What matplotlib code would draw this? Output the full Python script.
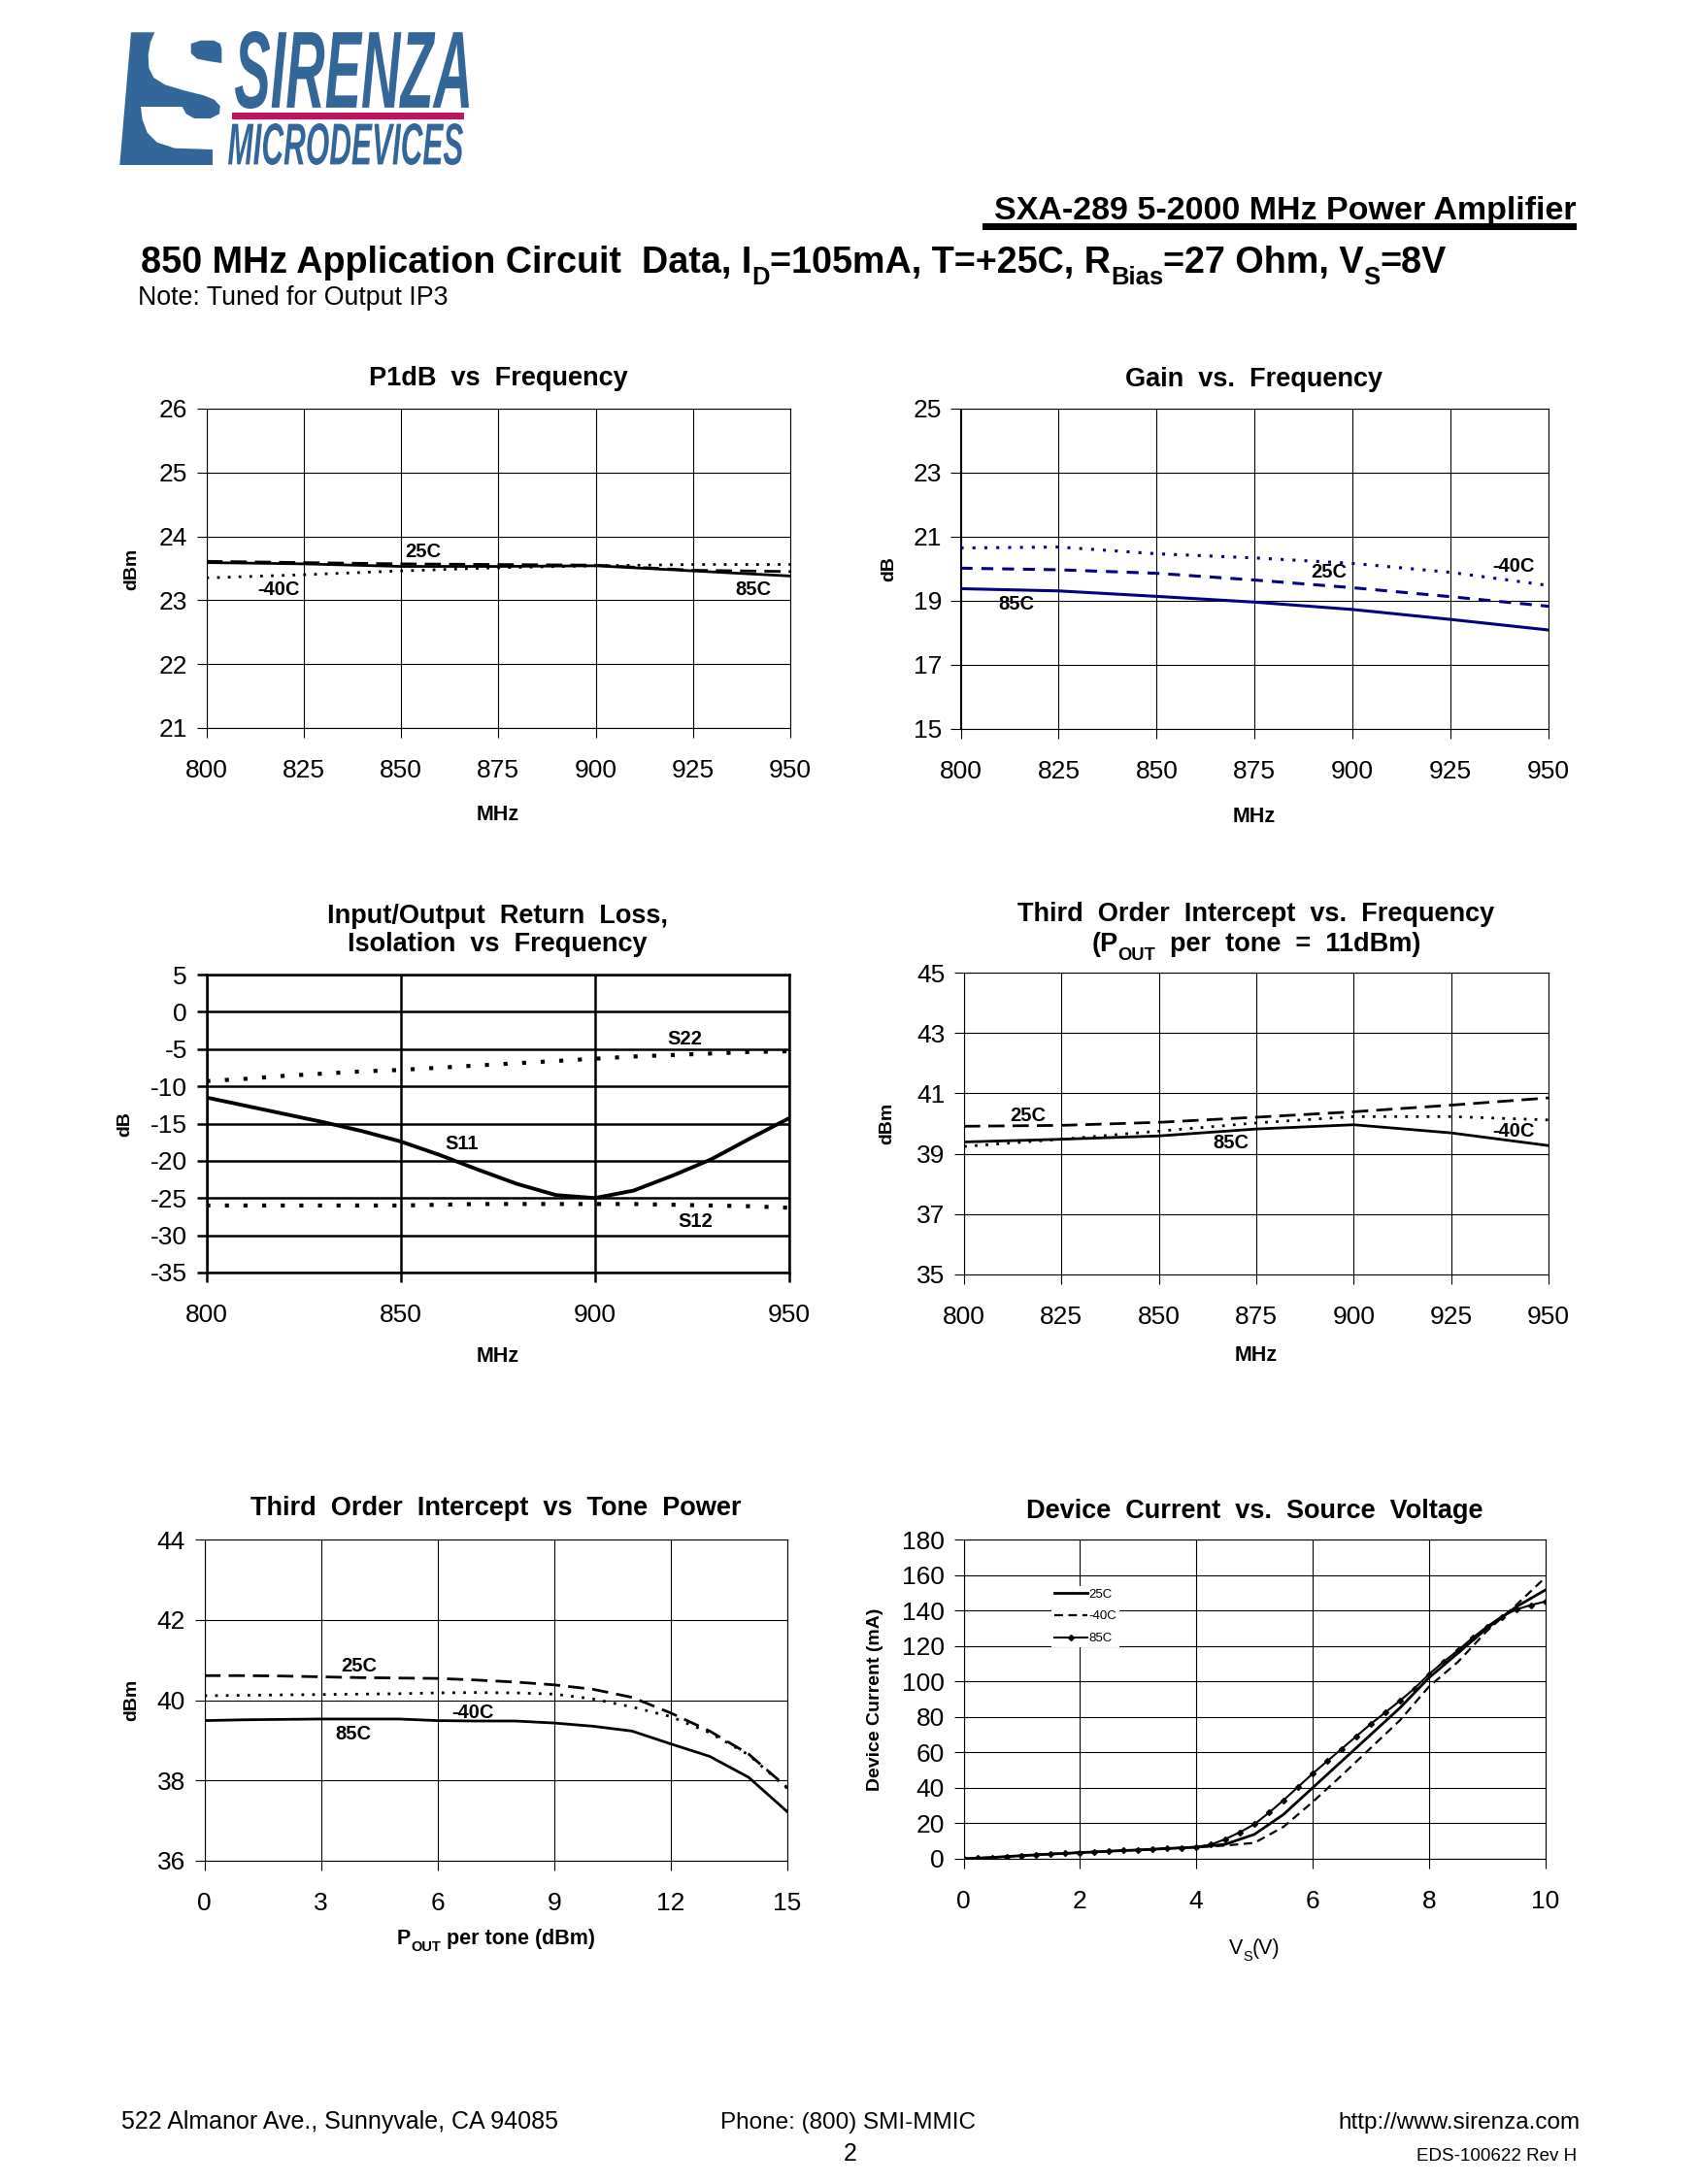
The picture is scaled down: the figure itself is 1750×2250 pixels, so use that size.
import numpy as np
import matplotlib
matplotlib.use('Agg')
import matplotlib.pyplot as plt
from matplotlib.patches import Polygon, Rectangle, PathPatch
from matplotlib.textpath import TextPath
from matplotlib.font_manager import FontProperties
from matplotlib.transforms import Affine2D

plt.rcParams['font.family'] = ['Liberation Sans', 'DejaVu Sans']
plt.rcParams['axes.unicode_minus'] = False

# ---- data ----
freq = [800, 825, 850, 875, 900, 925, 950]

# P1dB vs frequency (dBm)
p1db_25c = [23.61, 23.59, 23.57, 23.56, 23.55, 23.47, 23.45]
p1db_85c = [23.59, 23.57, 23.53, 23.53, 23.54, 23.46, 23.38]
p1db_m40c = [23.35, 23.40, 23.46, 23.51, 23.54, 23.56, 23.56]

# gain vs frequency (dB)
gain_m40c = [20.65, 20.68, 20.47, 20.34, 20.17, 19.89, 19.48]
gain_25c = [20.02, 19.97, 19.86, 19.65, 19.41, 19.13, 18.83]
gain_85c = [19.38, 19.31, 19.14, 18.96, 18.73, 18.42, 18.09]

# return loss / isolation (dB)
rl_freq = [800, 810, 820, 830, 840, 850, 860, 870, 880, 890, 900, 910, 920, 930, 940, 950]
s11 = [-11.5, -12.6, -13.7, -14.8, -16.0, -17.4, -19.2, -21.2, -23.1, -24.6, -25.0, -24.0, -22.0, -19.8, -17.0, -14.3]
s22 = [-9.3, -9.0, -8.6, -8.3, -8.0, -7.8, -7.5, -7.2, -6.9, -6.6, -6.3, -6.0, -5.8, -5.6, -5.4, -5.3]
s12 = [-26.0, -26.0, -26.0, -26.0, -26.0, -26.0, -25.9, -25.8, -25.8, -25.8, -25.8, -25.8, -25.9, -26.0, -26.1, -26.3]

# OIP3 vs frequency (dBm)
toi_25c = [39.91, 39.94, 40.04, 40.21, 40.39, 40.61, 40.85]
toi_m40c = [39.24, 39.48, 39.75, 40.02, 40.23, 40.23, 40.12]
toi_85c = [39.39, 39.48, 39.59, 39.82, 39.96, 39.69, 39.27]

# OIP3 vs tone power (dBm)
pout = list(range(16))
tone_25c = [40.61, 40.61, 40.60, 40.58, 40.56, 40.55, 40.54, 40.50, 40.45, 40.38, 40.27, 40.07, 39.68, 39.23, 38.66, 37.82]
tone_m40c = [40.11, 40.12, 40.13, 40.14, 40.15, 40.16, 40.18, 40.19, 40.18, 40.15, 40.03, 39.83, 39.59, 39.19, 38.64, 37.80]
tone_85c = [39.49, 39.51, 39.52, 39.53, 39.53, 39.53, 39.49, 39.48, 39.48, 39.43, 39.35, 39.23, 38.91, 38.60, 38.08, 37.22]

# device current vs source voltage (mA)
vs = [0, 0.5, 1, 1.5, 2, 2.5, 3, 3.5, 4, 4.5, 5, 5.5, 6, 6.5, 7, 7.5, 8, 8.5, 9, 9.5, 10]
id_25c = [0, 0.8, 1.8, 2.7, 3.5, 4.3, 5.0, 5.8, 6.6, 8.2, 13.8, 25, 40, 55, 70, 85, 102, 116, 130, 142, 151.5]
id_m40c = [0, 0.8, 1.8, 2.7, 3.5, 4.3, 5.0, 5.8, 6.5, 7.5, 9.0, 18, 32, 47, 62.5, 78, 97, 111, 128.5, 143, 158.5]
vs_85 = [0, 0.25, 0.5, 0.75, 1, 1.25, 1.5, 1.75, 2, 2.25, 2.5, 2.75, 3, 3.25, 3.5, 3.75, 4, 4.25, 4.5, 4.75,
         5, 5.25, 5.5, 5.75, 6, 6.25, 6.5, 6.75, 7, 7.25, 7.5, 7.75, 8, 8.25, 8.5, 8.75, 9, 9.25, 9.5, 9.75, 10]
id_85c = [0, 0.4, 0.8, 1.3, 1.8, 2.2, 2.7, 3.1, 3.5, 3.9, 4.3, 4.7, 5.0, 5.4, 5.8, 6.2, 6.7, 8.0, 11.1, 15,
          19.5, 26, 33, 40.5, 48, 55, 62, 69, 76, 82.5, 89, 96, 104, 111, 117.5, 124.5, 131, 136.5, 140.5, 143, 145]

W, H = 1750, 2250
fig = plt.figure(figsize=(17.5, 22.5), dpi=100)
fig.patch.set_facecolor('white')

# page layer, coordinates in pixels (y down)
page = fig.add_axes([0, 0, 1, 1])
page.set_xlim(0, W)
page.set_ylim(H, 0)
page.axis('off')

BLUE = '#336699'
NAVY = '#000080'
DASH = (0, (6, 3))
DOT = (0, (1, 3))
TSIZE = 19.5   # chart titles
LSIZE = 14.5   # curve labels


def box(l, t, r, b):
    return fig.add_axes([l / W, 1 - b / H, (r - l) / W, (b - t) / H])


def style(ax, xlim, ylim, xt, yt, lw=0.8):
    ax.set_xlim(xlim)
    ax.set_ylim(ylim)
    ax.set_xticks(xt)
    ax.set_yticks(yt)
    ax.grid(True, color='black', lw=lw)
    ax.set_axisbelow(True)
    for s in ax.spines.values():
        s.set_linewidth(lw)
    ax.tick_params(direction='out', length=7, width=lw, labelsize=19, top=False, right=False)
    ax.tick_params(axis='y', pad=7)
    ax.tick_params(axis='x', pad=16)


def rich(x, y, parts, size, weight='normal', ha='left'):
    rend = fig.canvas.get_renderer()
    items = []
    for s, sub in parts:
        fs = size * 0.68 if sub else size
        t = page.text(0, 0, s, fontsize=fs, fontweight=weight, va='baseline')
        items.append((t, sub, t.get_window_extent(rend).width))
    total = sum(w for _, _, w in items)
    x0 = x - total / 2 if ha == 'center' else x
    for t, sub, w in items:
        dy = size * 100 / 72 * 0.32 if sub else 0
        t.set_position((x0, y + dy))
        x0 += w


def ylab(x, y, s):
    page.text(x, y, s, rotation=90, ha='center', va='center', fontsize=14, fontweight='bold')


def xlab(x, y, s):
    page.text(x, y, s, ha='center', va='baseline', fontsize=15.5, fontweight='bold')


def ttl(x, y, s):
    page.text(x, y, s, ha='center', va='baseline', fontsize=TSIZE, fontweight='bold')


def lab(ax, x, y, s):
    ax.text(x, y, s, fontsize=LSIZE, fontweight='bold', ha='center', va='center')


# ---- logo ----
logo_s = [(135, 33.3), (159.3, 33.3), (155, 43.3), (152.7, 56.7), (153.3, 70), (158.3, 80), (170, 87.3),
          (190, 93.3), (210, 98.3), (220.7, 102.7), (226.7, 109.3), (226, 117.3), (216.7, 122), (200, 122),
          (191.7, 117.3), (187.7, 110), (145, 110), (146.7, 123.3), (151.7, 136.7), (161.7, 146.7),
          (180, 152.7), (219, 154), (219, 170), (123.3, 170)]
page.add_patch(Polygon(logo_s, closed=True, fc=BLUE, ec='none'))
drop = [(196.7, 45), (206.7, 41.7), (220, 41.7), (226.7, 45), (228.3, 50), (228.3, 65), (216.7, 63.3),
        (203.3, 60.7), (196.7, 55)]
page.add_patch(Polygon(drop, closed=True, fc=BLUE, ec='none'))
page.add_patch(Rectangle((239, 116), 239, 7, fc='#c2125a', ec='none'))


def logo_word(s, x0, x1, y0, y1):
    fp = FontProperties(family=['Liberation Sans Narrow', 'Liberation Sans'], weight='bold', style='italic')
    tp = TextPath((0, 0), s, size=100, prop=fp)
    bb = tp.get_extents()
    tr = Affine2D().translate(-bb.x0, -bb.y0).scale((x1 - x0) / bb.width, -(y1 - y0) / bb.height).translate(x0, y1)
    page.add_patch(PathPatch(tr.transform_path(tp), fc=BLUE, ec='none'))


logo_word('SIRENZA', 242, 483, 32, 112)
logo_word('MICRODEVICES', 235, 477, 127, 170)

# ---- header ----
page.text(1624, 226, 'SXA-289 5-2000 MHz Power Amplifier', ha='right', va='baseline',
          fontsize=24.5, fontweight='bold')
page.add_patch(Rectangle((1012, 230), 612, 7, fc='black', ec='none'))
rich(145, 281, [('850 MHz Application Circuit  Data, I', False), ('D', True), ('=105mA, T=+25C, R', False),
                ('Bias', True), ('=27 Ohm, V', False), ('S', True), ('=8V', False)], 27.2, weight='bold')
page.text(142, 314, 'Note: Tuned for Output IP3', fontsize=19.3, va='baseline')

# ---- P1dB vs frequency ----
ax1 = box(212.5, 421, 814, 750)
style(ax1, (800, 950), (21, 26), freq, range(21, 27))
ax1.plot(freq, p1db_m40c, color='black', lw=2, ls=DOT)
ax1.plot(freq, p1db_25c, color='black', lw=2, ls=DASH)
ax1.plot(freq, p1db_85c, color='black', lw=2)
lab(ax1, 855.7, 23.76, '25C')
lab(ax1, 818.5, 23.16, '-40C')
lab(ax1, 940.6, 23.16, '85C')
ttl(513, 397, 'P1dB  vs  Frequency')
xlab(513, 845, 'MHz')
ylab(136, 586, 'dBm')

# ---- gain vs frequency ----
ax2 = box(989.5, 421, 1595, 751)
style(ax2, (800, 950), (15, 25), freq, range(15, 26, 2))
ax2.plot(freq, gain_m40c, color=NAVY, lw=2.2, ls=(0, (1, 3)))
ax2.plot(freq, gain_25c, color=NAVY, lw=2.2, ls=(0, (4, 3)))
ax2.plot(freq, gain_85c, color=NAVY, lw=2.2)
lab(ax2, 814.3, 18.88, '85C')
lab(ax2, 894, 19.89, '25C')
lab(ax2, 941, 20.09, '-40C')
ttl(1292, 398, 'Gain  vs.  Frequency')
xlab(1292, 847, 'MHz')
ylab(916, 586, 'dB')

# ---- return loss ----
ax3 = box(212.5, 1004, 812.6, 1311)
style(ax3, (800, 950), (-35, 5), [800, 850, 900, 950], range(-35, 6, 5), lw=1.8)
ax3.plot(rl_freq, s22, color='black', lw=3, ls=(0, (1, 3.6)))
ax3.plot(rl_freq, s12, color='black', lw=3, ls=(0, (1, 3.6)))
ax3.plot(rl_freq, s11, color='black', lw=2.8)
lab(ax3, 923.3, -3.7, 'S22')
lab(ax3, 865.8, -17.8, 'S11')
lab(ax3, 926, -28.1, 'S12')
ttl(512.5, 951, 'Input/Output  Return  Loss,')
ttl(512.5, 980, 'Isolation  vs  Frequency')
xlab(512.5, 1403, 'MHz')
ylab(129, 1158, 'dB')

# ---- OIP3 vs frequency ----
ax4 = box(993, 1002, 1595, 1313)
style(ax4, (800, 950), (35, 45), freq, range(35, 46, 2))
ax4.plot(freq, toi_m40c, color='black', lw=2, ls=DOT)
ax4.plot(freq, toi_25c, color='black', lw=2, ls=DASH)
ax4.plot(freq, toi_85c, color='black', lw=2)
lab(ax4, 816.5, 40.25, '25C')
lab(ax4, 868.5, 39.37, '85C')
lab(ax4, 941, 39.75, '-40C')
ttl(1294, 949, 'Third  Order  Intercept  vs.  Frequency')
rich(1294, 980, [('(P', False), ('OUT', True), ('  per  tone  =  11dBm)', False)], TSIZE, weight='bold', ha='center')
xlab(1294, 1402, 'MHz')
ylab(914, 1157, 'dBm')

# ---- OIP3 vs tone power ----
ax5 = box(210.5, 1586, 811, 1917)
style(ax5, (0, 15), (36, 44), range(0, 16, 3), range(36, 45, 2))
ax5.plot(pout, tone_m40c, color='black', lw=2, ls=DOT)
ax5.plot(pout, tone_25c, color='black', lw=2, ls=DASH)
ax5.plot(pout, tone_85c, color='black', lw=2)
lab(ax5, 3.98, 40.84, '25C')
lab(ax5, 6.9, 39.69, '-40C')
lab(ax5, 3.84, 39.15, '85C')
ttl(511, 1561, 'Third  Order  Intercept  vs  Tone  Power')
rich(511, 2003, [('P', False), ('OUT', True), (' per tone (dBm)', False)], 15.5, weight='bold', ha='center')
ylab(136, 1751, 'dBm')

# ---- device current ----
ax6 = box(992.5, 1586, 1591.6, 1915)
style(ax6, (0, 10), (0, 180), range(0, 11, 2), range(0, 181, 20))
ax6.plot(vs, id_25c, color='black', lw=2, label='25C')
ax6.plot(vs, id_m40c, color='black', lw=1.6, ls=(0, (4, 2.5)), label='-40C')
ax6.plot(vs_85, id_85c, color='black', lw=1.5, marker='D', ms=3, label='85C')
ax6.legend(loc='upper left', bbox_to_anchor=(0.14, 0.875), frameon=True, facecolor='white', edgecolor='none',
           framealpha=1, fancybox=False, fontsize=9.5, numpoints=1, handlelength=2.6, labelspacing=0.8,
           handletextpad=0.1, borderpad=0.2)
ttl(1292, 1564, 'Device  Current  vs.  Source  Voltage')
rich(1292, 2013, [('V', False), ('S', True), ('(V)', False)], 15.5, ha='center')
ylab(902, 1751, 'Device Current (mA)')

# ---- footer ----
page.text(125, 2193, '522 Almanor Ave., Sunnyvale, CA 94085', fontsize=18, va='baseline')
page.text(874, 2193, 'Phone: (800) SMI-MMIC', fontsize=17.5, va='baseline', ha='center')
page.text(876, 2226, '2', fontsize=18, va='baseline', ha='center')
page.text(1627, 2193, 'http://www.sirenza.com', fontsize=17.5, va='baseline', ha='right')
page.text(1624, 2226, 'EDS-100622 Rev H', fontsize=13.5, va='baseline', ha='right')

fig.savefig('out.png', dpi=100, facecolor='white')
